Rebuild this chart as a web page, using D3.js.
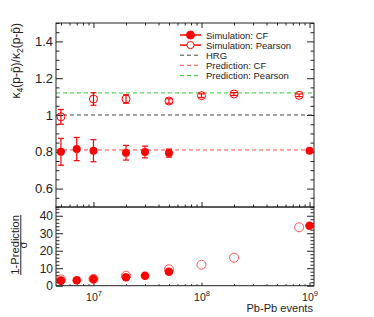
<!DOCTYPE html>
<html>
<head>
<meta charset="utf-8">
<script src="https://cdn.jsdelivr.net/npm/d3@7"></script>
<style>
  body { margin: 0; background: #fff; }
  svg { display: block; font-family: "Liberation Sans", Arial, sans-serif; }
  .tick line { stroke: #222; }
  .tick text { fill: #222; }
</style>
</head>
<body>
<div id="chart"></div>
<script>
// Simulation results (top pad): kappa4 / kappa2 of net protons
const cfEvents = [5e6, 7e6, 1e7, 2e7, 3e7, 5e7, 1e9];
const cfValue = [0.800, 0.815, 0.806, 0.795, 0.799, 0.793, 0.806];
const cfError = [0.073, 0.063, 0.060, 0.040, 0.032, 0.022, 0.003];

const pearsonEvents = [5e6, 1e7, 2e7, 5e7, 1e8, 2e8, 8e8];
const pearsonValue = [0.990, 1.087, 1.087, 1.076, 1.105, 1.114, 1.107];
const pearsonError = [0.040, 0.034, 0.023, 0.012, 0.010, 0.008, 0.007];

// Reference lines
const hrgValue = 1.0;
const predictionCF = 0.81;
const predictionPearson = 1.12;

// Significance (bottom pad): (1 - prediction) / sigma
const cfSignif = [2.9, 3.1, 3.8, 4.8, 5.7, 8.0, 34.3];
const pearsonSignif = [3.6, 3.9, 5.7, 9.4, 12.0, 16.0, 33.4];

const legendLabels = ['Simulation: CF', 'Simulation: Pearson', 'HRG', 'Prediction: CF', 'Prediction: Pearson'];
const topTicks = [0.6, 0.8, 1.0, 1.2, 1.4];
const bottomTicks = [0, 10, 20, 30, 40];
const xMajor = [1e7, 1e8, 1e9];

const width = 374, height = 317;
const padLeft = 56, padRight = 314, padTop = 23, padMid = 207, padBottom = 285.7;
const red = '#ff0000';

const svg = d3.select('#chart').append('svg')
    .attr('width', width)
    .attr('height', height);

const x = d3.scaleLog().domain([4.5e6, 1.1e9]).range([padLeft, padRight]);
const yTop = d3.scaleLinear().domain([0.5, 1.5]).range([padMid, padTop]);
const yBot = d3.scaleLinear().domain([0, 45]).range([padBottom, padMid]);

// minor tick values
const xMinor = [];
[1e6, 1e7, 1e8].forEach(dec => {
    for (let k = 2; k <= 9; k++) {
        const v = dec * k;
        if (v >= 4.5e6 && v <= 1.1e9) xMinor.push(v);
    }
});
const yTopMinor = d3.range(0.5, 1.5001, 0.05).filter(v => !topTicks.some(t => Math.abs(t - v) < 1e-6));
const yBotMinor = d3.range(0, 45.001, 2).filter(v => v % 10 !== 0);

function drawAxis(axis, tx, ty) {
    const g = svg.append('g')
        .attr('transform', `translate(${tx},${ty})`)
        .call(axis);
    g.select('.domain').remove();
    return g;
}

// ---- top pad ----
drawAxis(d3.axisBottom(x).tickValues(xMinor).tickSize(-2.5).tickFormat(''), 0, padMid);
drawAxis(d3.axisBottom(x).tickValues(xMajor).tickSize(-5).tickFormat(''), 0, padMid);
drawAxis(d3.axisTop(x).tickValues(xMinor).tickSize(-2.5).tickFormat(''), 0, padTop);
drawAxis(d3.axisTop(x).tickValues(xMajor).tickSize(-5).tickFormat(''), 0, padTop);

drawAxis(d3.axisLeft(yTop).tickValues(yTopMinor).tickSize(-3.5).tickFormat(''), padLeft, 0);
drawAxis(d3.axisLeft(yTop).tickValues(topTicks).tickSize(-7).tickPadding(3)
    .tickFormat(d => d === 1 ? '1' : d3.format('.1f')(d)), padLeft, 0)
    .selectAll('text').attr('font-size', 13);
drawAxis(d3.axisRight(yTop).tickValues(yTopMinor).tickSize(-3.5).tickFormat(''), padRight, 0);
drawAxis(d3.axisRight(yTop).tickValues(topTicks).tickSize(-7).tickFormat(''), padRight, 0);

// reference lines
const refLines = [
    { v: hrgValue, color: '#444' },
    { v: predictionCF, color: '#ff4444' },
    { v: predictionPearson, color: '#33cc33' }
];
svg.append('g').selectAll('line')
    .data(refLines)
    .enter()
    .append('line')
    .attr('x1', padLeft)
    .attr('x2', padRight)
    .attr('y1', d => yTop(d.v))
    .attr('y2', d => yTop(d.v))
    .attr('stroke', d => d.color)
    .attr('stroke-width', 1)
    .attr('stroke-dasharray', '4,3');

// error bars
function errorBars(xs, vs, es) {
    const g = svg.append('g').attr('stroke', red).attr('stroke-width', 1.2);
    xs.forEach((xv, i) => {
        const px = x(xv);
        const y1 = yTop(vs[i] - es[i]);
        const y2 = yTop(vs[i] + es[i]);
        g.append('line').attr('x1', px).attr('x2', px).attr('y1', y1).attr('y2', y2);
        g.append('line').attr('x1', px - 3).attr('x2', px + 3).attr('y1', y1).attr('y2', y1);
        g.append('line').attr('x1', px - 3).attr('x2', px + 3).attr('y1', y2).attr('y2', y2);
    });
}
errorBars(cfEvents, cfValue, cfError);
errorBars(pearsonEvents, pearsonValue, pearsonError);

svg.append('g').selectAll('circle')
    .data(pearsonEvents)
    .enter()
    .append('circle')
    .attr('cx', d => x(d))
    .attr('cy', (d, i) => yTop(pearsonValue[i]))
    .attr('r', 4)
    .attr('fill', 'none')
    .attr('stroke', red)
    .attr('stroke-width', 1);

svg.append('g').selectAll('circle')
    .data(cfEvents)
    .enter()
    .append('circle')
    .attr('cx', d => x(d))
    .attr('cy', (d, i) => yTop(cfValue[i]))
    .attr('r', 4)
    .attr('fill', red);

// legend
const legend = svg.append('g').attr('font-size', 9.5).attr('fill', '#222');
legendLabels.forEach((label, i) => {
    const ly = 35 + i * 10.1;
    const lx1 = 180, lx2 = 201, lc = 190.5;
    if (i < 2) {
        legend.append('line').attr('x1', lx1).attr('x2', lx2).attr('y1', ly).attr('y2', ly)
            .attr('stroke', red).attr('stroke-width', 1.5);
        legend.append('circle').attr('cx', lc).attr('cy', ly).attr('r', i === 0 ? 4 : 3.6)
            .attr('fill', i === 0 ? red : '#fff')
            .attr('stroke', red).attr('stroke-width', 1);
    } else {
        legend.append('line').attr('x1', lx1).attr('x2', lx2).attr('y1', ly).attr('y2', ly)
            .attr('stroke', refLines[i - 2].color).attr('stroke-width', 1)
            .attr('stroke-dasharray', '4,3');
    }
    legend.append('text').attr('x', 206).attr('y', ly + 3.5).text(label);
});

// ---- bottom pad ----
drawAxis(d3.axisBottom(x).tickValues(xMinor).tickSize(-1.5).tickFormat(''), 0, padBottom);
const xb = drawAxis(d3.axisBottom(x).tickValues(xMajor).tickSize(-3).tickPadding(6).tickFormat(''), 0, padBottom);
xb.selectAll('.tick text')
    .attr('font-size', 10.5)
    .attr('dy', null)
    .attr('y', 15)
    .each(function(d) {
        const t = d3.select(this);
        t.append('tspan').text('10');
        t.append('tspan').attr('font-size', 7.5).attr('dy', -4.5).text(Math.round(Math.log10(d)));
    });

drawAxis(d3.axisLeft(yBot).tickValues(yBotMinor).tickSize(-3.5).tickFormat(''), padLeft, 0);
drawAxis(d3.axisLeft(yBot).tickValues(bottomTicks).tickSize(-7).tickPadding(3), padLeft, 0)
    .selectAll('text').attr('font-size', 12);
drawAxis(d3.axisRight(yBot).tickValues(yBotMinor).tickSize(-3.5).tickFormat(''), padRight, 0);
drawAxis(d3.axisRight(yBot).tickValues(bottomTicks).tickSize(-7).tickFormat(''), padRight, 0);

svg.append('g').selectAll('circle')
    .data(pearsonEvents)
    .enter()
    .append('circle')
    .attr('cx', d => x(d))
    .attr('cy', (d, i) => yBot(pearsonSignif[i]))
    .attr('r', 4.5)
    .attr('fill', 'none')
    .attr('stroke', '#ff5555')
    .attr('stroke-width', 1);

svg.append('g').selectAll('circle')
    .data(cfEvents)
    .enter()
    .append('circle')
    .attr('cx', d => x(d))
    .attr('cy', (d, i) => yBot(cfSignif[i]))
    .attr('r', 4.3)
    .attr('fill', red);

// frames
svg.append('rect').attr('x', padLeft).attr('y', padTop).attr('width', padRight - padLeft).attr('height', padMid - padTop)
    .attr('fill', 'none').attr('stroke', '#222').attr('stroke-width', 1);
svg.append('rect').attr('x', padLeft).attr('y', padMid).attr('width', padRight - padLeft).attr('height', padBottom - padMid)
    .attr('fill', 'none').attr('stroke', '#222').attr('stroke-width', 1);

// axis titles
const yTitle = svg.append('text')
    .attr('transform', `translate(20,23) rotate(-90)`)
    .attr('text-anchor', 'end')
    .attr('font-size', 12)
    .attr('fill', '#222');
yTitle.append('tspan').text('\u03ba');
yTitle.append('tspan').attr('font-size', 8.5).attr('dy', 3).text('4');
yTitle.append('tspan').attr('dy', -3).text('(p-p\u0304)/\u03ba');
yTitle.append('tspan').attr('font-size', 8.5).attr('dy', 3).text('2');
yTitle.append('tspan').attr('dy', -3).text('(p-p\u0304)');

svg.append('text')
    .attr('transform', `translate(19,215) rotate(-90)`)
    .attr('text-anchor', 'end')
    .attr('font-size', 11.2)
    .attr('fill', '#222')
    .text('1-Prediction');
svg.append('line')
    .attr('x1', 20.8).attr('x2', 20.8).attr('y1', 215).attr('y2', 275)
    .attr('stroke', '#222').attr('stroke-width', 1);
svg.append('text')
    .attr('transform', `translate(26.5,245) rotate(-90)`)
    .attr('text-anchor', 'middle')
    .attr('font-size', 11.2)
    .attr('fill', '#222')
    .text('\u03c3');

svg.append('text')
    .attr('x', 313).attr('y', 312)
    .attr('text-anchor', 'end')
    .attr('font-size', 11.1)
    .attr('fill', '#222')
    .text('Pb-Pb events');
</script>
</body>
</html>
